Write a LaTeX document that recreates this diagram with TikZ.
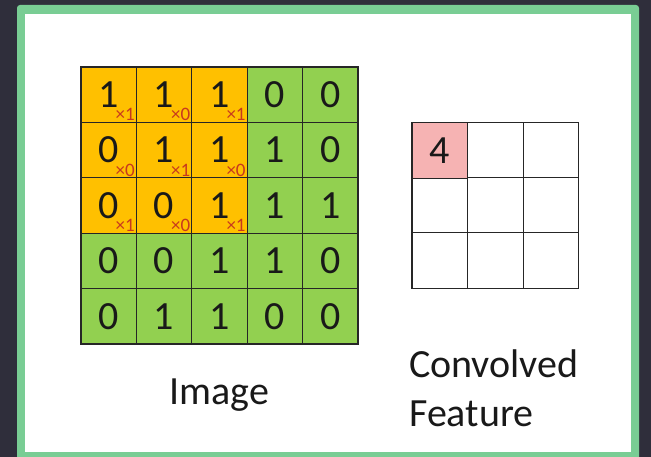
\documentclass[tikz,border=0pt]{standalone}
\usepackage{fontspec}
\setmainfont{Carlito}
\usetikzlibrary{positioning}
\definecolor{bgdark}{HTML}{2F2E3B}
\definecolor{framegreen}{HTML}{79CD94}
\definecolor{cellorange}{HTML}{FFC000}
\definecolor{cellgreen}{HTML}{92D050}
\definecolor{cellpink}{HTML}{F6B3B3}
\definecolor{weightred}{HTML}{C8391E}
\tikzset{
    img_cell/.style = {
        draw=black!85,
        line width=1.2pt,
        fill=cellgreen,
        minimum size=55.4pt,
        inner sep=0pt,
        text=black!90,
        font=\fontsize{40}{40}\selectfont
    },
    hot_cell/.style = {
        img_cell,
        fill=cellorange
    },
    out_cell/.style = {
        img_cell,
        fill=white,
        minimum size=55.5pt
    },
    weight/.style = {
        text=weightred,
        inner sep=0pt,
        anchor=south east,
        font=\fontsize{19}{19}\selectfont
    },
    caption/.style = {
        inner sep=0pt,
        text=black!90,
        font=\fontsize{40}{48}\selectfont
    },
}

\begin{document}
\begin{tikzpicture}[x=1pt, y=-1pt]
    \useasboundingbox (0, 0) rectangle (651, 457);
    % backdrop and frame
    \fill[bgdark] (0, 0) rectangle (651, 457);
    \fill[framegreen, rounded corners=3pt] (17, 5) rectangle (639, 470);
    \fill[white] (25, 14) rectangle (631, 452);

    % input image, 5x5
    \foreach \vals [count=\r] in {{1,1,1,0,0},{0,1,1,1,0},{0,0,1,1,1},{0,0,1,1,0},{0,1,1,0,0}}
        \foreach \v [count=\c] in \vals {
            \ifnum\r<4 \ifnum\c<4 \def\cellstyle{hot_cell}\else\def\cellstyle{img_cell}\fi
            \else \def\cellstyle{img_cell}\fi
            \node[\cellstyle] (im-\r-\c) at ({81 + 55.4*(\c - 0.5)}, {67 + 55.4*(\r - 0.5)}) {\v};
        }

    % filter weights on the window
    \foreach \wts [count=\r] in {{1,0,1},{0,1,0},{1,0,1}}
        \foreach \w [count=\c] in \wts
            \node[weight] (w-\r-\c) at ([xshift=-2pt, yshift=2pt]im-\r-\c.south east) {×\w};

    % convolved feature, 3x3
    \foreach \r in {1,2,3}
        \foreach \c in {1,2,3}
            \node[out_cell] (cf-\r-\c) at ({412 + 55.6*(\c - 0.5)}, {123 + 55*(\r - 0.5)}) {};
    \node[out_cell, fill=cellpink] (cf-1-1) at (cf-1-1) {4};

    % captions
    \node[caption, below=60pt of im-5-3, anchor=base] (img-label) {Image};
    \node[caption, anchor=base west] (conv-label) at (409, 377) {Convolved};
    \node[caption, anchor=base west] (feat-label) at ([yshift=-49pt]conv-label.base west) {Feature};
\end{tikzpicture}
\end{document}
